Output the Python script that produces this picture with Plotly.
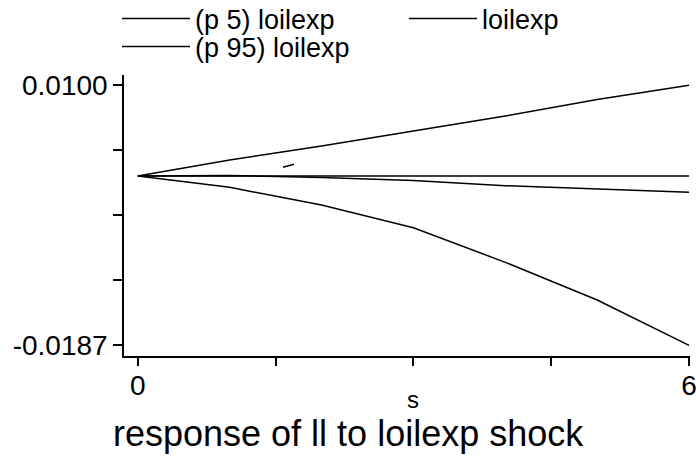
import plotly.graph_objects as go

# ---- data ----
step = [0, 1, 2, 3, 4, 5, 6]
p5_loilexp = [0.0, -0.00126, -0.00321, -0.00572, -0.00954, -0.0137, -0.0187]
loilexp = [0.0, 0.00005, -0.00018, -0.00051, -0.00108, -0.00148, -0.00181]
p95_loilexp = [0.0, 0.00175, 0.00329, 0.00496, 0.00661, 0.00843, 0.0100]
zero_line = [0.0, 0.0, 0.0, 0.0, 0.0, 0.0, 0.0]
stray_x = [1.58, 1.70]
stray_y = [0.00095, 0.00128]

x_tickvals = [0, 1.5, 3, 4.5, 6]
x_ticktext = ["0", "", "", "", "6"]
y_tickvals = [0.0100, 0.002825, -0.00435, -0.011525, -0.0187]
y_ticktext = ["0.0100", "", "", "", "-0.0187"]

W, H = 696, 457
PL, PR, PT, PB = 124, 690, 75, 356  # plot area in pixels

FONT = "Liberation Sans, Arial, sans-serif"
line_style = dict(color="black", width=1.5)

fig = go.Figure()
fig.add_trace(go.Scatter(x=step, y=p5_loilexp, mode="lines", name="(p 5) loilexp", line=line_style, legend="legend"))
fig.add_trace(go.Scatter(x=step, y=loilexp, mode="lines", name="loilexp", line=line_style, legend="legend3"))
fig.add_trace(go.Scatter(x=step, y=p95_loilexp, mode="lines", name="(p 95) loilexp", line=line_style, legend="legend2"))
fig.add_trace(go.Scatter(x=step, y=zero_line, mode="lines", showlegend=False, line=line_style))
fig.add_trace(go.Scatter(x=stray_x, y=stray_y, mode="lines", showlegend=False, line=line_style))

legend_common = dict(
    orientation="h", xanchor="left", yanchor="middle",
    font=dict(size=27, family=FONT), itemwidth=68,
    bgcolor="rgba(0,0,0,0)", borderwidth=0,
)
fig.update_layout(
    width=W, height=H,
    margin=dict(l=0, r=0, t=0, b=0, autoexpand=False),
    paper_bgcolor="white", plot_bgcolor="white",
    font=dict(family=FONT, color="black"),
    legend=dict(legend_common, x=117 / W, y=1 - 19 / H),
    legend3=dict(legend_common, x=404 / W, y=1 - 19 / H),
    legend2=dict(legend_common, x=117 / W, y=1 - 47 / H),
    showlegend=True,
)
fig.update_xaxes(
    domain=[PL / W, PR / W], automargin=False,
    range=[-0.15, 6.01], showgrid=False, zeroline=False,
    showline=True, linecolor="black", linewidth=1.5,
    ticks="outside", ticklen=8, tickwidth=1.5, tickcolor="black",
    tickvals=x_tickvals, ticktext=x_ticktext,
    tickfont=dict(size=28, family=FONT), ticklabelstandoff=-4,
    ticklabeloverflow="allow",
)
fig.update_yaxes(
    domain=[1 - PB / H, 1 - PT / H], automargin=False,
    range=[-0.01988, 0.01114], showgrid=False, zeroline=False,
    showline=True, linecolor="black", linewidth=1.5,
    ticks="outside", ticklen=9, tickwidth=1.5, tickcolor="black",
    tickvals=y_tickvals, ticktext=y_ticktext,
    tickfont=dict(size=28, family=FONT),
)
# x-axis title "s"
fig.add_annotation(
    text="s", xref="paper", yref="paper",
    x=413 / W, y=1 - 399 / H, xanchor="center", yanchor="middle",
    showarrow=False, font=dict(size=24, family=FONT),
)
fig.add_annotation(
    text="response of ll to loilexp shock", xref="paper", yref="paper",
    x=348 / W, y=1 - 433 / H, xanchor="center", yanchor="middle",
    showarrow=False, font=dict(size=36, family=FONT),
)
fig.write_html(
    "out.html",
    config={"displayModeBar": False},
    post_script="document.body.style.margin='0';",
)
